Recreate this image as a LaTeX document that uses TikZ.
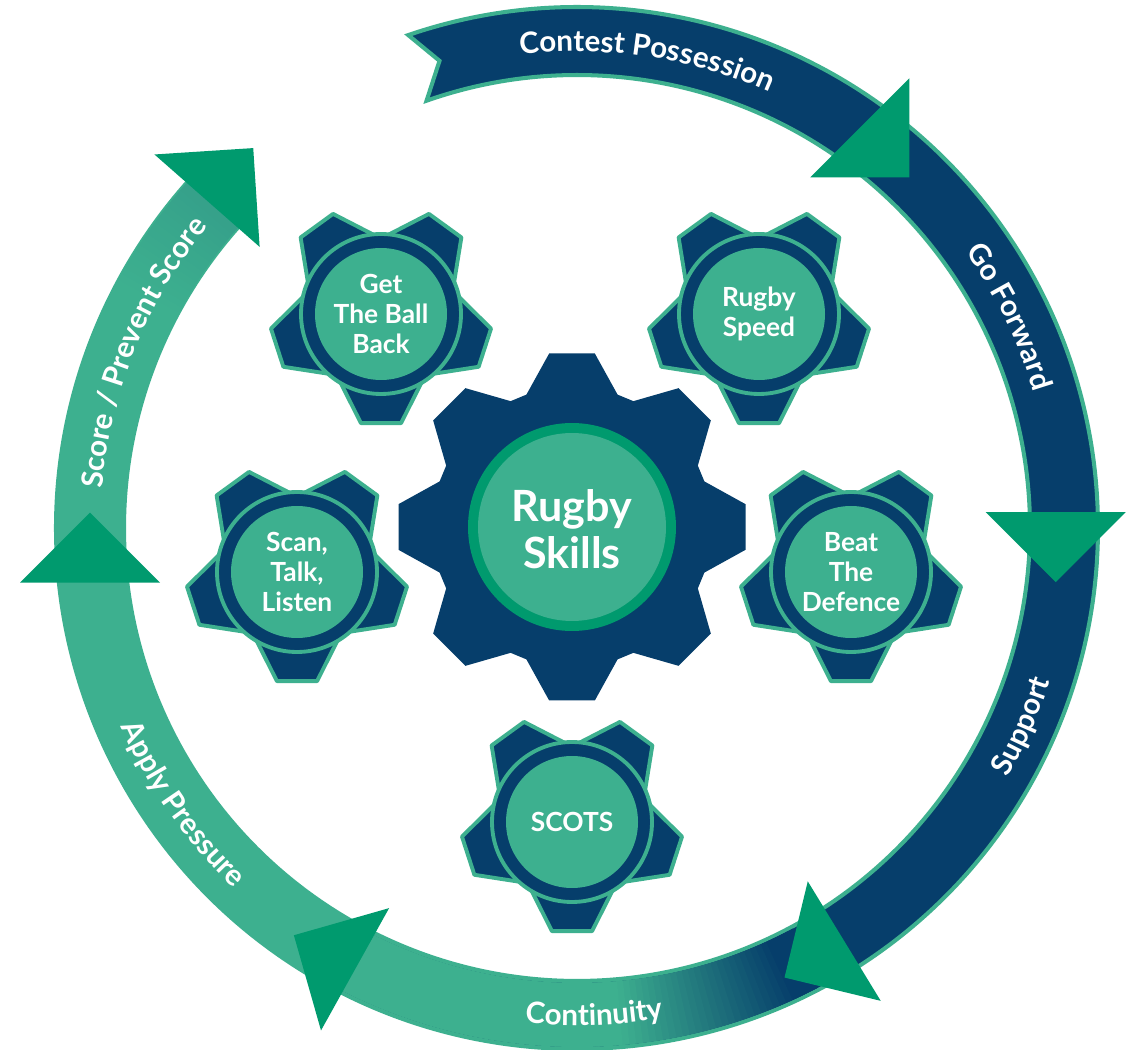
\documentclass[tikz,border=0pt]{standalone}
\usepackage{fontspec}
\setmainfont{Lato}
\usetikzlibrary{decorations.text}

\definecolor{ringnavy}{RGB}{6,62,107}
\definecolor{ringteal}{RGB}{61,176,143}
\definecolor{arrowgreen}{RGB}{0,154,110}

\newcommand{\ringfont}{\fontsize{16.8}{16.8}\selectfont\bfseries}

\begin{document}
\begin{tikzpicture}[
        x=0.02cm, y=0.02cm,
        bandedge/.style={draw=ringteal, line width=2.3pt},
        cogedge/.style={fill=ringnavy, draw=ringteal, line width=2.2pt, line join=round},
        cogtext/.style={text=white, align=center, font=\fontsize{15}{17}\selectfont\bfseries},
        hubtext/.style={text=white, align=center, font=\fontsize{24.5}{27}\selectfont\bfseries},
        ringtext/.style={decorate, decoration={text along path, text align=center, text color=white, text={|\ringfont|#1}}},
        cog/.pic={
            \foreach \ang in {54,126,198,270,342}
                \filldraw[cogedge] (\ang-40:73) -- (\ang-10.4:111) -- (\ang+10.4:111) -- (\ang+40:73) -- cycle;
            \filldraw[cogedge] (0,0) circle[radius=80];
            \fill[ringteal] (0,0) circle[radius=66];
        }
    ]

    \useasboundingbox (0,0) rectangle (1133,1049);
    \fill[white] (0,0) rectangle (1133,1049);

    % outer cycle
    \begin{scope}[shift={(577,521)}]
        \filldraw[fill=ringnavy, bandedge] (108.9:521) arc[start angle=108.9, end angle=52, radius=521] -- (52:453) arc[start angle=52, end angle=109.4, radius=453] -- (106.4:487) -- cycle;
        \foreach \from/\to/\col in {52/-0.5/ringnavy, -0.5/-59.5/ringnavy, -59.5/-119.5/ringnavy, -119.5/-176/ringteal, -176/-224/ringteal}
            \filldraw[fill=\col, bandedge] (\from:521) arc[start angle=\from, end angle=\to, radius=521] -- (\to:453) arc[start angle=\to, end angle=\from, radius=453] -- cycle;

        % colour blends
        \foreach \a in {-62,-62.75,...,-121}{
            \pgfmathsetmacro\mix{min(100,max(0,(-65-\a)*5))}
            \fill[ringteal!\mix!ringnavy] (\a+0.3:519) arc[start angle=\a+0.3, end angle=\a-1.2, radius=519] -- (\a-1.2:455) arc[start angle=\a-1.2, end angle=\a+0.3, radius=455] -- cycle;
        }
        \foreach \a in {152,151.25,...,136}{
            \pgfmathsetmacro\mix{min(100,max(0,100-(152-\a)))}
            \fill[ringteal!\mix!ringnavy] (\a+0.3:521) arc[start angle=\a+0.3, end angle=\a-1.2, radius=521] -- (\a-1.2:453) arc[start angle=\a-1.2, end angle=\a+0.3, radius=453] -- cycle;
        }

        \foreach \t/\r/\p in {54.75/490/-45, 1.9/479/-90, -57.1/492/-148.6, -116.7/494/150.9, 186.4/490/90, 138.5/494/48.7}
            \fill[arrowgreen, shift={(\t:\r)}] (\p+90:70) -- (\p-90:70) -- (\p:70) -- cycle;

        \path[ringtext={Contest Possession}] (106.5:476.5) arc[start angle=106.5, end angle=56.5, radius=476.5];
        \path[ringtext={Go Forward}] (51:476.5) arc[start angle=51, end angle=1, radius=476.5];
        \path[ringtext={Score / Prevent Score}] (185:476.5) arc[start angle=185, end angle=131, radius=476.5];
        \path[ringtext={Support}] (-49:497.5) arc[start angle=-49, end angle=1, radius=497.5];
        \path[ringtext={Continuity}] (-113:497.5) arc[start angle=-113, end angle=-63, radius=497.5];
        \path[ringtext={Apply Pressure}] (190:497.5) arc[start angle=190, end angle=240, radius=497.5];
    \end{scope}

    % centre gear
    \coordinate (hubc) at (572,522);
    \begin{scope}[shift={(hubc)}]
        \fill[ringnavy] (71:140) \foreach \k in {0,...,7}{ -- (\k*45+71:140) -- (\k*45+82.5:175) -- (\k*45+97.5:175) -- (\k*45+109:140)} -- cycle;
        \fill[arrowgreen] (0,0) circle[radius=104];
        \fill[ringteal] (0,0) circle[radius=94];
    \end{scope}
    \node[hubtext] (skills) at (572,520) {Rugby\\Skills};

    % small gears
    \foreach \px/\py/\cogid/\words in {381/735/getball/{Get\\The Ball\\Back}, 759/735/speed/{Rugby\\Speed}, 297/477/scan/{Scan,\\Talk,\\Listen}, 851/477/beat/{Beat\\The\\Defence}, 572/227/scots/{SCOTS}}{
        \pic at (\px,\py) {cog};
        \node[cogtext] (\cogid) at (\px,\py) {\words};
    }

\end{tikzpicture}
\end{document}
